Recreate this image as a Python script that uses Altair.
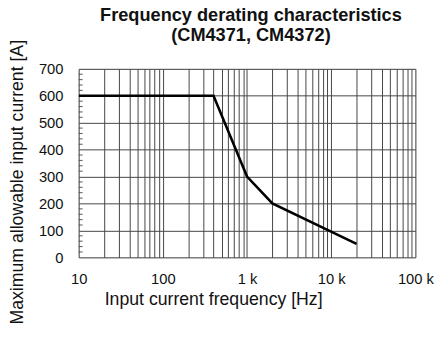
import altair as alt
import pandas as pd

# data
freq = [10, 400, 1000, 2000, 20000]
current = [600, 600, 300, 200, 50]

x_ticks = [m * 10 ** e for e in range(1, 5) for m in range(1, 10)] + [100000]
y_ticks = [0, 100, 200, 300, 400, 500, 600, 700]
y_minor = [v for v in range(0, 701, 20) if v % 100 != 0]

title_lines = ["Frequency derating characteristics", "(CM4371, CM4372)"]
x_title = "Input current frequency [Hz]"
y_title = "Maximum allowable input current [A]"

FONT = "Liberation Sans"
W, H = 343, 192

df = pd.DataFrame({"f": freq, "i": current})
df_minor = pd.DataFrame({"m": y_minor})

xscale = alt.Scale(type="log", domain=[10, 100000], nice=False)
yscale = alt.Scale(domain=[0, 700], nice=False)

label_expr = ("abs(log(datum.value)/LN10 - round(log(datum.value)/LN10)) < 1e-6 ? "
              "(datum.value >= 1000 ? format(datum.value/1000, 'd') + ' k' : format(datum.value, 'd')) : ''")

y_axis = alt.Axis(values=y_ticks, title=y_title, grid=True, gridColor="#444",
                  gridWidth=1, gridOpacity=1, ticks=False, domain=False,
                  labelPadding=16, labelFontSize=15, labelFont=FONT, labelColor="#111",
                  labelOverlap=False,
                  titleFont=FONT, titleFontSize=18, titleFontWeight="normal",
                  titleColor="#111", titleX=-62, titleY=115, titleAngle=-90,
                  titleBaseline="middle", titleAlign="center")

line = alt.Chart(df).mark_line(color="black", strokeWidth=2.6, clip=True).encode(
    x=alt.X("f:Q", scale=xscale,
            axis=alt.Axis(values=x_ticks, labelExpr=label_expr, title=x_title,
                          grid=True, gridColor="#444", gridWidth=1, gridOpacity=1,
                          ticks=False, domain=False, labelPadding=15,
                          labelFontSize=15, labelFont=FONT, labelColor="#111",
                          labelFlush=False, labelOverlap=False,
                          titleFont=FONT, titleFontSize=18, titleFontWeight="normal",
                          titleColor="#111", titleX=137, titleY=43,
                          titleBaseline="middle", titleAnchor="start", titleAlign="center")),
    y=alt.Y("i:Q", scale=yscale, axis=y_axis),
)

minor = alt.Chart(df_minor).mark_rule(color="#555", strokeWidth=1).encode(
    x=alt.value(0), x2=alt.value(4), y=alt.Y("m:Q", scale=yscale, axis=y_axis)
)

chart = alt.layer(line, minor).properties(
    width=W, height=H,
    title=alt.TitleParams(text=title_lines, font=FONT, fontSize=18.5, fontWeight="bold",
                          color="#111", anchor="middle", frame="group", offset=26, dy=31,
                          dx=4, lineHeight=20),
    autosize=alt.AutoSizeParams(type="none"),
    padding={"left": 72, "top": 59, "right": 21, "bottom": 70},
).configure_view(stroke="black", strokeWidth=1.2).configure(background="white")

chart.save("out.html", embed_options={"renderer": "svg", "actions": False})
